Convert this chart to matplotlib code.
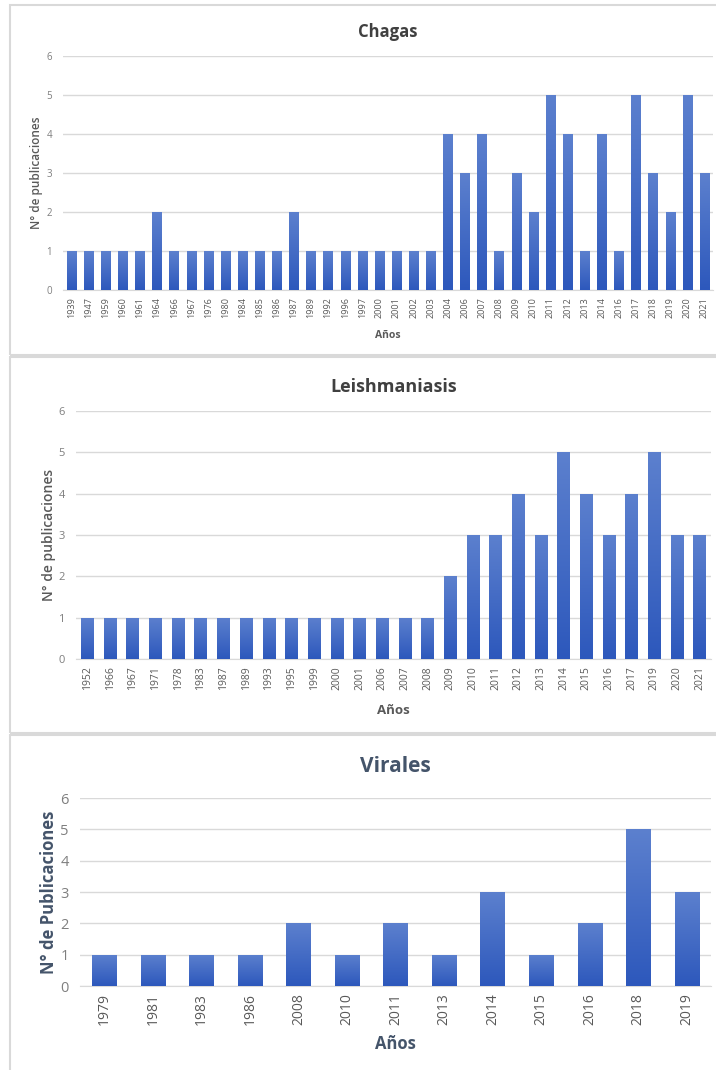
import numpy as np
import matplotlib.pyplot as plt
from matplotlib.patches import Rectangle

plt.rcParams['font.family'] = ['Open Sans', 'DejaVu Sans']

# Publicaciones por año
anios_chagas = ['1939', '1947', '1959', '1960', '1961', '1964', '1966', '1967', '1976',
                '1980', '1984', '1985', '1986', '1987', '1989', '1992', '1996', '1997',
                '2000', '2001', '2002', '2003', '2004', '2006', '2007', '2008', '2009',
                '2010', '2011', '2012', '2013', '2014', '2016', '2017', '2018', '2019',
                '2020', '2021']
pub_chagas = [1, 1, 1, 1, 1, 2, 1, 1, 1, 1, 1, 1, 1, 2, 1, 1, 1, 1, 1, 1, 1, 1,
              4, 3, 4, 1, 3, 2, 5, 4, 1, 4, 1, 5, 3, 2, 5, 3]

anios_leish = ['1952', '1966', '1967', '1971', '1978', '1983', '1987', '1989', '1993',
               '1995', '1999', '2000', '2001', '2006', '2007', '2008', '2009', '2010',
               '2011', '2012', '2013', '2014', '2015', '2016', '2017', '2019', '2020',
               '2021']
pub_leish = [1, 1, 1, 1, 1, 1, 1, 1, 1, 1, 1, 1, 1, 1, 1, 1,
             2, 3, 3, 4, 3, 5, 4, 3, 4, 5, 3, 3]

anios_viral = ['1979', '1981', '1983', '1986', '2008', '2010', '2011', '2013', '2014',
               '2015', '2016', '2018', '2019']
pub_viral = [1, 1, 1, 1, 2, 1, 2, 1, 3, 1, 2, 5, 3]

W, H = 716, 1070
fig = plt.figure(figsize=(W / 100, H / 100), dpi=100)

# marcos grises de cada grafico
borde = '#D9D9D9'
for (y0, y1) in [(5, 355), (357, 733), (735, 1075)]:
    fig.patches.append(Rectangle((10 / W, 1 - y1 / H), 720 / W, (y1 - y0) / H,
                                 transform=fig.transFigure, fill=False,
                                 edgecolor=borde, lw=1.5))

grad = np.linspace(0, 1, 100).reshape(-1, 1)
top = np.array([92, 128, 206]) / 255
bot = np.array([45, 88, 188]) / 255
img = (grad * bot + (1 - grad) * top)[:, None, :]


def barras(rect, anios, pubs, titulo, ylab, ancho, fs_t, fs_yt, fs_yl, fs_xt, fs_x,
           col_t, col_l, peso_l, pad_t, pad_x):
    ax = fig.add_axes(rect)
    x = np.arange(len(anios))
    bars = ax.bar(x, pubs, width=ancho, color='#3D68C4', zorder=2)
    for b in bars:
        x0 = b.get_x()
        im = ax.imshow(img, extent=[x0, x0 + b.get_width(), 0, b.get_height()],
                       aspect='auto', zorder=3, interpolation='bilinear')
        im.set_clip_path(b)
    ax.set_xlim(-0.5, len(anios) - 0.5)
    ax.set_ylim(0, 6)
    ax.set_yticks(range(7))
    ax.set_xticks(x)
    ax.set_xticklabels(anios, rotation=90)
    ax.tick_params(axis='y', length=0, labelsize=fs_yt, colors='#7F7F7F', pad=8)
    ax.tick_params(axis='x', length=0, labelsize=fs_xt, colors='#595959', pad=5)
    ax.grid(axis='y', color='#D9D9D9', lw=1, zorder=0)
    for s in ['top', 'right', 'left']:
        ax.spines[s].set_visible(False)
    ax.spines['bottom'].set_color('#D9D9D9')
    ax.set_title(titulo, fontsize=fs_t, fontweight='bold', color=col_t, pad=pad_t)
    ax.set_ylabel(ylab, fontsize=fs_yl, color=col_l, fontweight=peso_l, labelpad=2)
    ax.set_xlabel('Años', fontsize=fs_x, color=col_l, fontweight='bold', labelpad=pad_x)
    ax.set_axisbelow(True)
    return ax


barras([63 / W, 1 - 290 / H, 650 / W, 234 / H], anios_chagas, pub_chagas,
       'Chagas', 'N° de publicaciones', 0.55, 12, 7, 8.5, 6.5, 7.5,
       '#404040', '#595959', 'semibold', 14, 9)
barras([76 / W, 1 - 659 / H, 635 / W, 248 / H], anios_leish, pub_leish,
       'Leishmaniasis', 'N° de publicaciones', 0.55, 13, 8, 10, 7.5, 9.5,
       '#404040', '#595959', 'semibold', 14, 10)
barras([80 / W, 1 - 986 / H, 631 / W, 188 / H], anios_viral, pub_viral,
       'Virales', 'N° de Publicaciones', 0.5, 15, 10.5, 12, 10, 12,
       '#44546A', '#44546A', 'bold', 19, 7)

fig.savefig('out.png', dpi=100)
